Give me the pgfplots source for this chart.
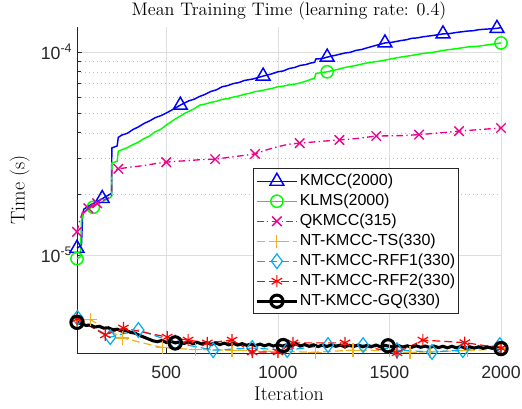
\documentclass[border=0pt]{standalone}
\usepackage{fontspec}
\usepackage{pgfplots}
\pgfplotsset{compat=1.18}
\newfontfamily\hv{Liberation Sans}
\definecolor{mgreen}{rgb}{0,1,0}
\definecolor{morange}{rgb}{0.929,0.694,0.125}
\definecolor{axgray}{gray}{0.15}

\pgfplotsset{
  kmcc/.style={blue, line width=1.1pt, mark=triangle, mark size=6pt, mark options={solid}},
  klms/.style={mgreen, line width=1.1pt, mark=o, mark size=4.6pt, mark options={solid}},
  qkmcc/.style={magenta, line width=1pt, dash pattern=on 5pt off 2.5pt on 1pt off 2.5pt, mark=x, mark size=5pt, mark options={solid}},
  ts/.style={morange, line width=0.9pt, dash pattern=on 6pt off 3pt, mark=+, mark size=5pt, mark options={solid}},
  rffa/.style={cyan, line width=0.9pt, dash pattern=on 6pt off 3pt, mark=diamond, mark size=5.5pt, mark options={solid}},
  rffb/.style={red, line width=0.9pt, dash pattern=on 6pt off 3pt, mark=asterisk, mark size=4.5pt, mark options={solid}},
  gq/.style={black, line width=2.3pt, mark=o, mark size=4.6pt, mark options={solid}},
}

\begin{document}
\begin{tikzpicture}
\begin{axis}[
  name=ax,
  width=318pt, height=244.5pt, scale only axis,
  ymode=log,
  xmin=100, xmax=2000,
  ymin=3.29e-6, ymax=1.33e-4,
  clip=false,
  axis x line*=bottom, axis y line*=left,
  axis line style={-, draw=axgray, line width=0.6pt},
  xtick={500,1000,1500,2000},
  xticklabels={500,1000,1500,2000},
  ytick={1e-5,1e-4},
  yticklabels={10\textsuperscript{-5},10\textsuperscript{-4}},
  ticklabel style={font=\hv\fontsize{13.3}{15}\selectfont, text=axgray},
  xticklabel style={yshift=-6pt},
  tick style={draw=axgray, line width=0.6pt},
  major tick length=4pt, minor tick length=3pt,
  xmajorgrids, ymajorgrids, yminorgrids,
  major grid style={draw=black!13, solid},
  minor grid style={draw=black!25, dash pattern=on 0.75pt off 2.25pt},
  every axis title shift=0pt,
  title={Mean Training Time (learning rate: 0.4)},
  title style={font=\fontsize{13.6}{15}\selectfont, at={(axis description cs:0.5,1)}, anchor=south, inner sep=0pt, yshift=5pt},
  xlabel={Iteration},
  xlabel style={font=\fontsize{15}{17}\selectfont, at={(axis description cs:0.5,0)}, anchor=north, inner sep=0pt, yshift=-25.5pt},
  ylabel={Time (s)},
  ylabel style={font=\fontsize{15}{17}\selectfont, at={(axis description cs:-0.111,0.5)}, anchor=south, inner sep=0pt},
  legend style={at={(axis description cs:0.415,0.567)}, anchor=north west,
    draw=axgray, fill=white, line width=0.6pt,
    font=\hv\fontsize{12}{14}\selectfont,
    inner xsep=1.5pt, inner ysep=2pt, row sep=0pt,
    nodes={inner xsep=1pt, inner ysep=1.5pt, text height=9pt, text depth=3pt}},
  legend cell align=left,
  legend image code/.code={\draw[mark repeat=2,mark phase=2,#1] plot coordinates {(0pt,0pt) (15pt,0pt) (30pt,0pt)};},
]

% KMCC
\addplot[kmcc, mark=none, forget plot] coordinates {
(100,1.08e-5) (110,1.10e-5) (120,1.12e-5) (125,1.55e-5) (130,1.68e-5) (150,1.74e-5)
(175,1.80e-5) (200,1.86e-5) (225,1.93e-5) (250,2.00e-5) (255,2.02e-5) (256,3.37e-5)
(280,3.45e-5) (285,3.80e-5) (300,3.90e-5) (325,3.98e-5) (350,4.15e-5) (375,4.28e-5)
(400,4.45e-5) (425,4.58e-5) (450,4.75e-5) (475,4.86e-5) (500,5.01e-5) (530,5.22e-5)
(563,5.48e-5) (600,5.75e-5) (625,5.86e-5) (650,6.05e-5) (675,6.20e-5) (700,6.40e-5)
(725,6.52e-5) (750,6.75e-5) (775,6.84e-5) (800,7.00e-5) (825,7.08e-5) (850,7.25e-5)
(890,7.38e-5) (934,7.62e-5) (970,7.80e-5) (1000,8.00e-5) (1025,8.08e-5) (1050,8.30e-5)
(1075,8.40e-5) (1100,8.60e-5) (1125,8.68e-5) (1150,8.85e-5) (1165,8.90e-5) (1170,9.25e-5)
(1200,9.30e-5) (1221,9.45e-5) (1260,9.66e-5) (1300,9.90e-5) (1325,9.98e-5) (1350,1.02e-4)
(1375,1.03e-4) (1400,1.05e-4) (1440,1.08e-4) (1480,1.11e-4) (1515,1.12e-4) (1550,1.14e-4)
(1575,1.15e-4) (1600,1.17e-4) (1625,1.175e-4) (1650,1.19e-4) (1700,1.21e-4) (1740,1.23e-4)
(1770,1.235e-4) (1800,1.25e-4) (1850,1.27e-4) (1875,1.275e-4) (1900,1.29e-4) (1940,1.30e-4)
(1982,1.31e-4) (2000,1.32e-4)
};
\addplot[kmcc, only marks, forget plot] coordinates {
(100,1.08e-5) (213,1.90e-5) (563,5.48e-5) (934,7.62e-5) (1221,9.45e-5) (1480,1.11e-4) (1740,1.23e-4) (1982,1.31e-4)
};

% KLMS
\addplot[klms, mark=none, forget plot] coordinates {
(100,9.6e-6) (115,9.8e-6) (120,1.45e-5) (125,1.60e-5) (150,1.68e-5) (175,1.74e-5)
(200,1.80e-5) (225,1.86e-5) (250,1.92e-5) (255,1.95e-5) (256,2.84e-5) (280,2.90e-5)
(285,3.25e-5) (300,3.30e-5) (325,3.38e-5) (350,3.50e-5) (375,3.60e-5) (400,3.75e-5)
(425,3.86e-5) (450,4.05e-5) (475,4.16e-5) (500,4.37e-5) (540,4.68e-5) (585,5.01e-5)
(620,5.22e-5) (650,5.48e-5) (675,5.55e-5) (700,5.65e-5) (725,5.73e-5) (750,5.85e-5)
(775,5.90e-5) (800,6.00e-5) (825,6.08e-5) (850,6.20e-5) (875,6.27e-5) (900,6.40e-5)
(925,6.45e-5) (950,6.55e-5) (975,6.63e-5) (1000,6.75e-5) (1025,6.80e-5) (1050,6.90e-5)
(1075,6.95e-5) (1100,7.05e-5) (1130,7.22e-5) (1165,7.45e-5) (1170,7.85e-5) (1221,8.00e-5)
(1260,8.18e-5) (1300,8.40e-5) (1350,8.60e-5) (1400,8.85e-5) (1440,8.98e-5) (1480,9.13e-5)
(1515,9.30e-5) (1550,9.45e-5) (1600,9.63e-5) (1650,9.85e-5) (1700,1.00e-4) (1740,1.02e-4)
(1800,1.04e-4) (1850,1.06e-4) (1900,1.07e-4) (1950,1.09e-4) (2000,1.11e-4)
};
\addplot[klms, only marks, forget plot] coordinates {
(100,9.6e-6) (173,1.72e-5) (1221,8.00e-5) (2000,1.11e-4)
};

% QKMCC
\addplot[qkmcc, mark=none, forget plot] coordinates {
(100,1.30e-5) (110,1.45e-5) (124,1.62e-5) (150,1.70e-5) (175,1.76e-5) (200,1.82e-5)
(225,1.88e-5) (250,1.93e-5) (255,1.95e-5) (256,2.60e-5) (285,2.66e-5) (350,2.72e-5)
(400,2.76e-5) (450,2.82e-5) (500,2.87e-5) (550,2.90e-5) (600,2.92e-5) (650,2.95e-5)
(719,2.97e-5) (800,3.05e-5) (850,3.10e-5) (898,3.15e-5) (950,3.30e-5) (1000,3.42e-5)
(1050,3.52e-5) (1098,3.56e-5) (1150,3.60e-5) (1200,3.64e-5) (1276,3.69e-5) (1350,3.75e-5)
(1441,3.86e-5) (1500,3.87e-5) (1560,3.88e-5) (1633,3.92e-5) (1700,3.98e-5) (1750,4.02e-5)
(1812,4.08e-5) (1900,4.15e-5) (2000,4.23e-5)
};
\addplot[qkmcc, only marks, forget plot] coordinates {
(100,1.30e-5) (151,1.70e-5) (190,1.80e-5) (285,2.66e-5) (500,2.87e-5) (719,2.97e-5)
(898,3.15e-5) (1098,3.56e-5) (1276,3.69e-5) (1441,3.86e-5) (1633,3.92e-5) (1812,4.08e-5) (2000,4.23e-5)
};

% NT-KMCC-TS
\addplot[ts, forget plot] coordinates {
(100,4.75e-6) (160,4.80e-6) (305,3.90e-6) (482,3.50e-6) (630,3.42e-6) (795,3.40e-6)
(997,3.35e-6) (1167,3.32e-6) (1337,3.40e-6) (1500,3.38e-6) (1592,3.31e-6) (1682,3.34e-6)
(1850,3.38e-6) (2000,3.45e-6)
};

% NT-KMCC-RFF1
\addplot[rffa, forget plot] coordinates {
(102,4.90e-6) (249,3.94e-6) (375,4.27e-6) (540,3.70e-6) (710,3.40e-6) (885,3.48e-6)
(1042,3.40e-6) (1225,3.60e-6) (1382,3.60e-6) (1534,3.40e-6) (1691,3.33e-6) (1829,3.40e-6)
(1995,3.60e-6)
};

% NT-KMCC-RFF2
\addplot[rffb, forget plot] coordinates {
(100,4.85e-6) (227,4.04e-6) (308,4.37e-6) (504,3.94e-6) (598,3.81e-6) (684,3.69e-6)
(795,3.81e-6) (885,3.33e-6) (1001,3.33e-6) (1068,3.69e-6) (1301,3.69e-6) (1534,3.30e-6)
(1650,3.81e-6) (1838,3.70e-6) (2000,3.48e-6)
};

% NT-KMCC-GQ
\addplot[gq, mark=none, forget plot] coordinates {
(100,4.66e-6) (120,4.58e-6) (140,4.50e-6) (160,4.52e-6) (180,4.42e-6) (200,4.45e-6)
(220,4.36e-6) (240,4.38e-6) (260,4.29e-6) (280,4.31e-6) (300,4.22e-6) (320,4.25e-6)
(340,4.16e-6) (360,4.12e-6) (380,4.02e-6) (400,3.94e-6) (420,3.86e-6) (440,3.78e-6)
(460,3.74e-6) (480,3.79e-6) (500,3.71e-6) (520,3.76e-6) (540,3.69e-6) (560,3.74e-6)
(580,3.67e-6) (600,3.73e-6) (620,3.66e-6) (640,3.71e-6) (660,3.64e-6) (680,3.70e-6)
(700,3.63e-6) (720,3.69e-6) (740,3.62e-6) (760,3.68e-6) (780,3.61e-6) (800,3.67e-6)
(820,3.60e-6) (840,3.66e-6) (860,3.59e-6) (880,3.64e-6) (900,3.58e-6) (920,3.64e-6)
(940,3.57e-6) (960,3.63e-6) (980,3.56e-6) (1000,3.62e-6) (1020,3.56e-6) (1040,3.61e-6)
(1060,3.55e-6) (1080,3.66e-6) (1100,3.56e-6) (1120,3.62e-6) (1140,3.55e-6) (1160,3.61e-6)
(1180,3.54e-6) (1200,3.60e-6) (1220,3.54e-6) (1240,3.61e-6) (1260,3.55e-6) (1280,3.60e-6)
(1300,3.53e-6) (1320,3.59e-6) (1340,3.54e-6) (1360,3.60e-6) (1380,3.53e-6) (1400,3.59e-6)
(1420,3.54e-6) (1440,3.60e-6) (1460,3.53e-6) (1480,3.59e-6) (1500,3.55e-6) (1520,3.52e-6)
(1540,3.58e-6) (1560,3.52e-6) (1580,3.57e-6) (1600,3.51e-6) (1620,3.57e-6) (1640,3.51e-6)
(1660,3.56e-6) (1680,3.50e-6) (1700,3.56e-6) (1720,3.50e-6) (1740,3.55e-6) (1760,3.49e-6)
(1780,3.55e-6) (1800,3.49e-6) (1820,3.54e-6) (1840,3.48e-6) (1860,3.53e-6) (1880,3.48e-6)
(1900,3.53e-6) (1920,3.47e-6) (1940,3.52e-6) (1960,3.47e-6) (1980,3.51e-6) (2000,3.46e-6)
};
\addplot[gq, only marks, forget plot] coordinates {
(100,4.66e-6) (540,3.69e-6) (1024,3.58e-6) (1494,3.57e-6) (2000,3.46e-6)
};

\addlegendimage{kmcc}
\addlegendentry{KMCC(2000)}
\addlegendimage{klms}
\addlegendentry{KLMS(2000)}
\addlegendimage{qkmcc}
\addlegendentry{QKMCC(315)}
\addlegendimage{ts}
\addlegendentry{NT-KMCC-TS(330)}
\addlegendimage{rffa}
\addlegendentry{NT-KMCC-RFF1(330)}
\addlegendimage{rffb}
\addlegendentry{NT-KMCC-RFF2(330)}
\addlegendimage{gq}
\addlegendentry{NT-KMCC-GQ(330)}
\end{axis}
\pgfresetboundingbox
\path[use as bounding box] ([shift={(-57.75pt,-42pt)}]ax.south west) rectangle ([shift={(15.75pt,20.25pt)}]ax.north east);
\end{tikzpicture}
\end{document}
